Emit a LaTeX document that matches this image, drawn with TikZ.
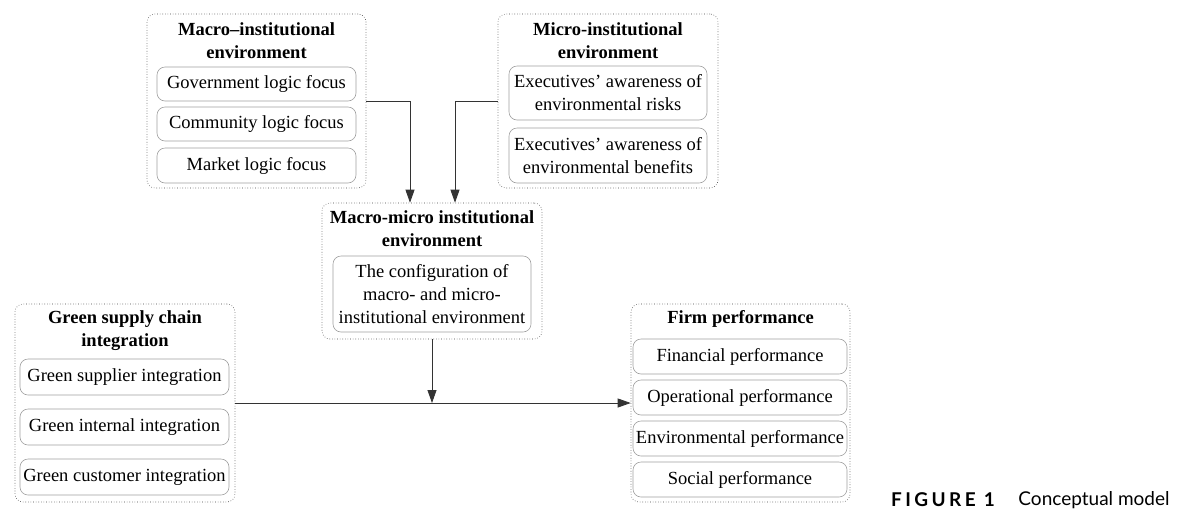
\documentclass[tikz,border=0pt]{standalone}
\usepackage{fontspec}
\setmainfont{Liberation Serif}
\newfontfamily\capfont{Lato}
\usepackage{xcolor}
\usetikzlibrary{positioning,arrows.meta}

\newcommand{\boxfont}{\fontsize{18.5}{23}\selectfont}

\tikzset{
  outerbox/.style={draw=black!75, line width=0.6pt, dotted, rounded corners=8pt, inner sep=0pt},
  innerbox/.style={draw=gray!75, line width=0.6pt, rounded corners=8pt, inner sep=0pt, align=center, font=\boxfont},
  titletext/.style={font=\boxfont\bfseries, align=center, inner sep=0pt},
  arrow/.style={draw=black!80, line width=0.8pt, -{Triangle[length=13pt, width=9pt]}}
}

\begin{document}
\begin{tikzpicture}[x=1pt, y=-1pt]
\useasboundingbox (0,0) rectangle (1190,520);

% outer groups
\node[outerbox, minimum width=219pt, minimum height=174pt] (macro) at (256.5,101) {};
\node[outerbox, minimum width=220pt, minimum height=174pt] (micro) at (608,101) {};
\node[outerbox, minimum width=220pt, minimum height=136pt] (mm) at (432,271) {};
\node[outerbox, minimum width=220pt, minimum height=198pt] (gsci) at (125,403) {};
\node[outerbox, minimum width=219pt, minimum height=198pt] (firm) at (740.5,403) {};

% titles
\node[titletext] (macro_title) at (256.5,41) {Macro--institutional\\environment};
\node[titletext] (micro_title) at (608,41) {Micro-institutional\\environment};
\node[titletext] (mm_title) at (432,229) {Macro-micro institutional\\environment};
\node[titletext] (gsci_title) at (125,331) {Green supply chain\\integration};
\node[titletext] (firm_title) at (740.5,319) {Firm performance};

% items
\node[innerbox, minimum width=199pt, minimum height=34pt] (gov) at (256.5,84) {Government logic focus};
\node[innerbox, minimum width=199pt, minimum height=34pt] (com) at (256.5,124) {Community logic focus};
\node[innerbox, minimum width=199pt, minimum height=35pt] (mkt) at (256.5,165.5) {Market logic focus};

\node[innerbox, minimum width=198pt, minimum height=54pt] (risk) at (608,93) {Executives’ awareness of\\environmental risks};
\node[innerbox, minimum width=198pt, minimum height=55pt] (benef) at (608,155.5) {Executives’ awareness of\\environmental benefits};

\node[innerbox, minimum width=198pt, minimum height=76pt] (config) at (432,294) {The configuration of\\macro- and micro-\\institutional environment};

\node[innerbox, minimum width=209pt, minimum height=36pt] (sup) at (124.5,377) {Green supplier integration};
\node[innerbox, minimum width=209pt, minimum height=36pt] (int) at (124.5,427) {Green internal integration};
\node[innerbox, minimum width=209pt, minimum height=36pt] (cus) at (124.5,477) {Green customer integration};

\node[innerbox, minimum width=214pt, minimum height=35pt] (fin) at (740,356.5) {Financial performance};
\node[innerbox, minimum width=214pt, minimum height=35pt] (ope) at (740,397.5) {Operational performance};
\node[innerbox, minimum width=214pt, minimum height=35pt] (env) at (740,438.5) {Environmental performance};
\node[innerbox, minimum width=214pt, minimum height=35pt] (soc) at (740,479.5) {Social performance};

% connectors
\coordinate (junction) at (mm.south |- gsci.east);
\draw[arrow] (macro.east) -| ([xshift=-22pt]mm.north);
\draw[arrow] (micro.west) -| ([xshift=23pt]mm.north);
\draw[arrow] (mm.south) -- (junction);
\draw[arrow] (gsci.east) -- (firm.west);

% caption
\node[font=\capfont\fontsize{19}{23}\selectfont\bfseries\addfontfeatures{LetterSpace=18}, inner sep=0pt] (fig_label) at (943,500) {FIGURE 1};
\node[font=\capfont\fontsize{19}{23}\selectfont, inner sep=0pt] (fig_caption) at (1094,500) {Conceptual model};

\end{tikzpicture}
\end{document}
